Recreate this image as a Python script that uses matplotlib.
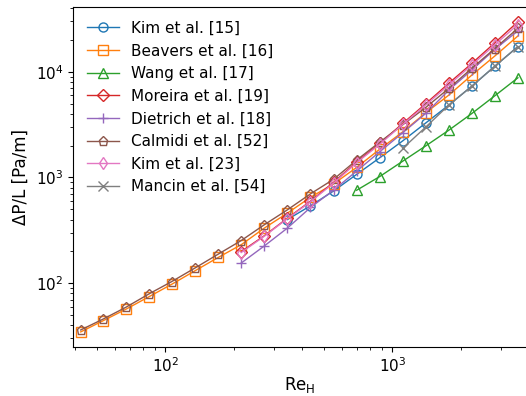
import numpy as np
import matplotlib
matplotlib.use('Agg')
import matplotlib.pyplot as plt

# Re_H values (same grid for all series)
re = [42.5, 53.5, 67.3, 85, 107, 135, 171, 216, 273, 345, 436, 551, 696, 879, 1110, 1402, 1770, 2236, 2823, 3565]

# pressure drop per series (Pa/m), None = no point
kim15 = [None]*9 + [400, 540, 745, 1070, 1535, 2220, 3280, 4840, 7310, 11300, 17300]
beavers = [34.6, 44.3, 56.8, 74.6, 97.8, 130.7, 175, 231, 332, 460, 650, 870, 1245, 1850, 2700, 4100, 6010, 9310, 14100, 21800]
wang = [None]*12 + [757, 1020, 1426, 1990, 2800, 4030, 5930, 8770]
moreira = [None]*7 + [199, 281, 412, 597, 900, 1405, 2100, 3245, 4990, 7780, 12000, 18800, 29700]
dietrich = [None]*7 + [155, 225, 332, 520, 760, 1150, 1750, 2650, 4040, 6700, 10400, 16300, 24400]
calmidi = [36.1, 45.9, 59.3, 79.3, 103.7, 138.8, 188, 253, 357, 494, 700, 962, 1460, 2160, 3150, 4600, 6950, 10800, 16600, 25800]
kim23 = [None]*7 + [195, 278, 408, 590, 885, 1380, 2060, 3180, 4850, 7500, 11600, 18000, 28000]
mancin = [None]*14 + [1885, 3000, 4840, 7310, 11300, 17300]

series = [
    ('Kim et al. [15]', kim15, 'o'),
    ('Beavers et al. [16]', beavers, 's'),
    ('Wang et al. [17]', wang, '^'),
    ('Moreira et al. [19]', moreira, 'D'),
    ('Dietrich et al. [18]', dietrich, '+'),
    ('Calmidi et al. [52]', calmidi, 'p'),
    ('Kim et al. [23]', kim23, 'd'),
    ('Mancin et al. [54]', mancin, 'x'),
]

fig = plt.figure(figsize=(5.26, 3.96), dpi=100)
ax = fig.add_axes([73/526, 49/396, 454/526, 340/396])

for i, (name, vals, mk) in enumerate(series):
    x = [r for r, v in zip(re, vals) if v is not None]
    y = [v for v in vals if v is not None]
    ax.plot(x, y, marker=mk, color='C%d' % i, mfc='none', ms=6.5, lw=1, label=name)

ax.set_xscale('log')
ax.set_yscale('log')
ax.set_xlim(39.3, 3910)
ax.set_ylim(24.9, 41000)
ax.set_xlabel('Re$_\\mathrm{H}$', fontsize=12, labelpad=0)
ax.set_ylabel('ΔP/L [Pa/m]', fontsize=12)
ax.tick_params(labelsize=11)
ax.legend(loc='upper left', frameon=False, fontsize=11, handlelength=2.1,
          labelspacing=0.5, borderaxespad=0.5)

fig.savefig('out.png', dpi=100)
